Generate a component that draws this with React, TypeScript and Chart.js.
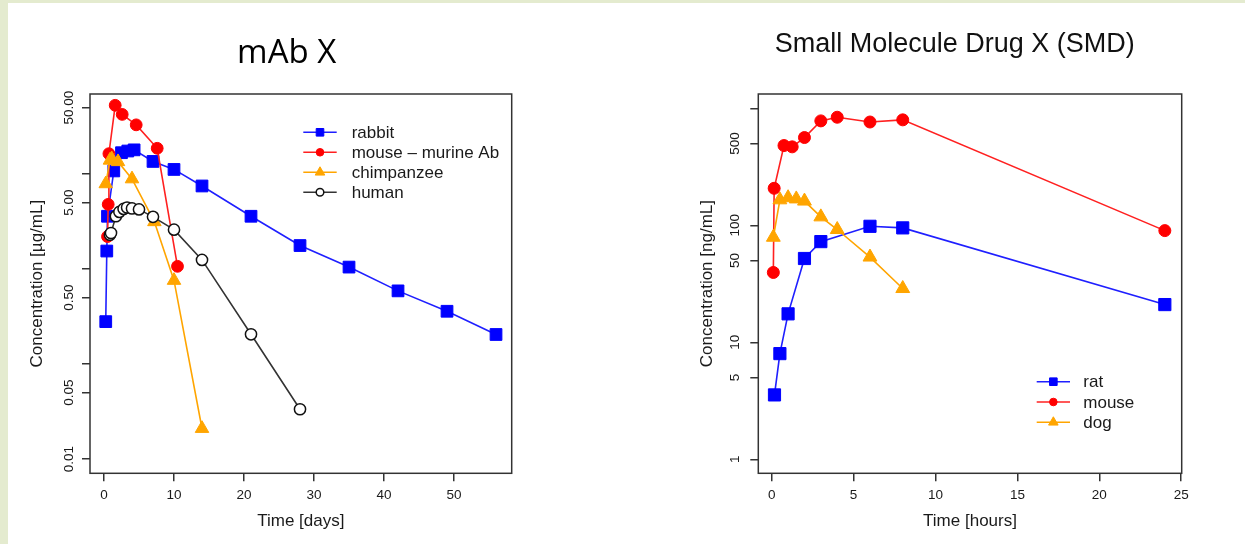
import React, { useEffect, useRef } from 'react';
import { Chart, registerables } from 'chart.js';

Chart.register(...registerables);
Chart.defaults.font.family = "'Liberation Sans', Arial, Helvetica, sans-serif";

// ---------- mAb X : time in days, concentration in µg/mL ----------
const rabbitDays = [0.25, 0.4, 0.5, 1.4, 2.5, 3.4, 4.3, 7, 10, 14, 21, 28, 35, 42, 49, 56];
const rabbitConc = [0.28, 1.55, 3.6, 10.8, 16.8, 17.5, 18, 13.6, 11.2, 7.5, 3.6, 1.77, 1.05, 0.59, 0.36, 0.205];
const murineDays = [0.5, 0.6, 0.7, 1.6, 2.6, 4.6, 7.6, 10.5];
const murineConc = [2.2, 4.8, 16.4, 53, 42.5, 33, 18.7, 1.07];
const chimpDays = [0.25, 0.85, 1.1, 2.0, 4.0, 7.2, 10, 14];
const chimpConc = [7.9, 14.0, 14.5, 13.5, 8.9, 3.15, 0.76, 0.021];
const humanDays = [0.85, 1.0, 1.7, 2.2, 2.8, 3.3, 4.0, 5.0, 7.0, 10, 14, 21, 28];
const humanConc = [2.3, 2.4, 3.6, 4.0, 4.3, 4.45, 4.35, 4.25, 3.55, 2.6, 1.25, 0.206, 0.0335];

const mabXTicks = [0, 10, 20, 30, 40, 50];
const mabYTicks = [0.01, 0.05, 0.1, 0.5, 1, 5, 10, 50];
const mabYLabels = ['0.01', '0.05', '', '0.50', '', '5.00', '', '50.00'];

// ---------- Small Molecule Drug X : time in hours, concentration in ng/mL ----------
const ratHours = [0.17, 0.5, 1, 2, 3, 6, 8, 24];
const ratConc = [3.55, 8.0, 17.5, 52, 72.5, 98, 95, 21];
const mouseHours = [0.1, 0.15, 0.75, 1.25, 2, 3, 4, 6, 8, 24];
const mouseConc = [39.5, 207, 480, 468, 562, 780, 838, 763, 796, 90];
const dogHours = [0.1, 0.5, 1, 1.5, 2, 3, 4, 6, 8];
const dogConc = [79, 165, 172, 168, 161, 118, 92, 53.5, 28.8];

const smdXTicks = [0, 5, 10, 15, 20, 25];
const smdYTicks = [1, 5, 10, 50, 100, 500, 1000];
const smdYLabels = ['1', '5', '10', '50', '100', '500', ''];

const TEXT = '#1a1a1a';
const AXIS = '#333333';

const pts = (xs: number[], ys: number[]) => xs.map((x, i) => ({ x, y: ys[i] }));

function drawMarker(ctx: CanvasRenderingContext2D, style: string, x: number, y: number, r: number, fill: string, stroke: string, lw: number) {
  ctx.beginPath();
  if (style === 'rect') {
    ctx.rect(x - r, y - r, 2 * r, 2 * r);
  } else if (style === 'triangle') {
    ctx.moveTo(x, y - r * 1.15);
    ctx.lineTo(x + r, y + r * 0.58);
    ctx.lineTo(x - r, y + r * 0.58);
    ctx.closePath();
  } else {
    ctx.arc(x, y, r, 0, Math.PI * 2);
  }
  ctx.fillStyle = fill;
  ctx.fill();
  ctx.lineWidth = lw;
  ctx.strokeStyle = stroke;
  ctx.stroke();
}

const framePlugin = {
  id: 'frameBox',
  afterDatasetsDraw(chart: any) {
    const { ctx, chartArea: a } = chart;
    ctx.save();
    ctx.strokeStyle = AXIS;
    ctx.lineWidth = 1.5;
    ctx.strokeRect(a.left, a.top, a.right - a.left, a.bottom - a.top);
    ctx.restore();
  },
};

const titlePlugin = {
  id: 'panelTitle',
  afterDraw(chart: any, _args: any, opts: any) {
    const { ctx } = chart;
    ctx.save();
    ctx.fillStyle = opts.color;
    ctx.font = opts.font;
    ctx.textAlign = 'center';
    ctx.textBaseline = 'alphabetic';
    ctx.fillText(opts.text, opts.x, opts.y);
    ctx.restore();
  },
};

const legendPlugin = {
  id: 'insetLegend',
  afterDraw(chart: any, _args: any, opts: any) {
    const { ctx, chartArea } = chart;
    const x0 = chartArea.left + opts.dx;
    const y0 = chartArea.top + opts.dy;
    ctx.save();
    chart.data.datasets.forEach((ds: any, i: number) => {
      const y = y0 + i * opts.rowGap;
      ctx.strokeStyle = ds.borderColor;
      ctx.lineWidth = 1.5;
      ctx.beginPath();
      ctx.moveTo(x0, y);
      ctx.lineTo(x0 + opts.lineLen, y);
      ctx.stroke();
      const r = ds.pointStyle === 'rect' ? 3.8 : ds.pointStyle === 'triangle' ? 4.8 : 3.8;
      drawMarker(ctx, ds.pointStyle, x0 + opts.lineLen / 2, y, r, ds.pointBackgroundColor, ds.pointBorderColor, ds.pointBorderWidth);
      ctx.fillStyle = TEXT;
      ctx.font = "17px 'Liberation Sans', Arial, sans-serif";
      ctx.textAlign = 'left';
      ctx.textBaseline = 'middle';
      ctx.fillText(ds.label, x0 + opts.textDx, y + 1);
    });
    ctx.restore();
  },
};

type Series = {
  label: string; xs: number[]; ys: number[]; line: string; fill: string; stroke: string;
  style: string; radius: number; bw: number; order: number;
};

type Spec = {
  series: Series[];
  xMin: number; xMax: number; xTicks: number[]; xTitle: string;
  yMin: number; yMax: number; yTicks: number[]; yLabels: string[]; yTitle: string;
  yAxisWidth: number; yTickPad: number; yTitlePad: number; padRight: number;
  title: any; legend: any;
};

function buildConfig(spec: Spec): any {
  const grid = {
    display: true, drawOnChartArea: false, drawTicks: true, tickLength: 8,
    color: AXIS, lineWidth: 1.5,
  };
  return {
    type: 'line',
    data: {
      datasets: spec.series.map((s) => ({
        label: s.label,
        data: pts(s.xs, s.ys),
        borderColor: s.line,
        borderWidth: 1.6,
        backgroundColor: s.fill,
        pointStyle: s.style,
        pointRadius: s.radius,
        pointBackgroundColor: s.fill,
        pointBorderColor: s.stroke,
        pointBorderWidth: s.bw,
        tension: 0,
        order: s.order,
        clip: false,
      })),
    },
    options: {
      responsive: false,
      animation: false,
      devicePixelRatio: 1,
      events: [],
      layout: { padding: { left: 0, top: 94, right: spec.padRight, bottom: 0 } },
      plugins: {
        legend: { display: false },
        tooltip: { enabled: false },
        panelTitle: spec.title,
        insetLegend: spec.legend,
      },
      scales: {
        x: {
          type: 'linear',
          min: spec.xMin,
          max: spec.xMax,
          afterBuildTicks: (s: any) => { s.ticks = spec.xTicks.map((v) => ({ value: v })); },
          afterFit: (s: any) => { s.height = 70.7; },
          grid,
          border: { display: false },
          ticks: {
            autoSkip: false, maxRotation: 0, minRotation: 0, padding: 5.6, color: TEXT,
            font: { size: 13.5 }, callback: (v: any) => String(v),
          },
          title: {
            display: true, text: spec.xTitle, color: TEXT, font: { size: 17 },
            padding: { top: 0, bottom: 12.1 },
          },
        },
        y: {
          type: 'logarithmic',
          min: spec.yMin,
          max: spec.yMax,
          afterBuildTicks: (s: any) => { s.ticks = spec.yTicks.map((v) => ({ value: v })); },
          afterFit: (s: any) => { s.width = spec.yAxisWidth; },
          grid,
          border: { display: false },
          ticks: {
            autoSkip: false, minRotation: 90, maxRotation: 90, crossAlign: 'center',
            padding: spec.yTickPad, color: TEXT, font: { size: 13.5 },
            callback: (_v: any, i: number) => spec.yLabels[i],
          },
          title: {
            display: true, text: spec.yTitle, color: TEXT, font: { size: 17 },
            padding: { top: spec.yTitlePad, bottom: 0 },
          },
        },
      },
    },
    plugins: [framePlugin, titlePlugin, legendPlugin],
  };
}

const mabSpec: Spec = {
  series: [
    { label: 'rabbit', xs: rabbitDays, ys: rabbitConc, line: '#1f1fff', fill: '#0000ff', stroke: '#0000ff', style: 'rect', radius: 8.3, bw: 1, order: 4 },
    { label: 'mouse \u2013 murine Ab', xs: murineDays, ys: murineConc, line: '#ff2020', fill: '#ff0000', stroke: '#ff0000', style: 'circle', radius: 5.9, bw: 1, order: 3 },
    { label: 'chimpanzee', xs: chimpDays, ys: chimpConc, line: '#ffa500', fill: '#ffa500', stroke: '#ffa500', style: 'triangle', radius: 7.8, bw: 1, order: 2 },
    { label: 'human', xs: humanDays, ys: humanConc, line: '#333333', fill: '#ffffff', stroke: '#111111', style: 'circle', radius: 5.6, bw: 1.5, order: 1 },
  ],
  xMin: -2.0, xMax: 58.24, xTicks: mabXTicks, xTitle: 'Time [days]',
  yMin: 0.00709, yMax: 69.7, yTicks: mabYTicks, yLabels: mabYLabels, yTitle: 'Concentration [\u00b5g/mL]',
  yAxisWidth: 90, yTickPad: -4.1, yTitlePad: 27.4, padRight: 108.3,
  title: { text: 'mAb X', x: 286.7, y: 62.5, font: "33px 'Open Sans', 'Noto Sans', sans-serif", color: '#000000' },
  legend: { dx: 213.3, dy: 38.3, rowGap: 20, lineLen: 33.4, textDx: 48.4 },
};

const smdSpec: Spec = {
  series: [
    { label: 'rat', xs: ratHours, ys: ratConc, line: '#1f1fff', fill: '#0000ff', stroke: '#0000ff', style: 'rect', radius: 8.6, bw: 1, order: 3 },
    { label: 'mouse', xs: mouseHours, ys: mouseConc, line: '#ff2020', fill: '#ff0000', stroke: '#ff0000', style: 'circle', radius: 6.0, bw: 1, order: 2 },
    { label: 'dog', xs: dogHours, ys: dogConc, line: '#ffa500', fill: '#ffa500', stroke: '#ffa500', style: 'triangle', radius: 8.0, bw: 1, order: 1 },
  ],
  xMin: -0.818, xMax: 25.03, xTicks: smdXTicks, xTitle: 'Time [hours]',
  yMin: 0.759, yMax: 1324, yTicks: smdYTicks, yLabels: smdYLabels, yTitle: 'Concentration [ng/mL]',
  yAxisWidth: 138.3, yTickPad: 4.0, yTitlePad: 77.5, padRight: 63.3,
  title: { text: 'Small Molecule Drug X (SMD)', x: 334.8, y: 52, font: "27px 'Liberation Sans', Arial, sans-serif", color: '#111111' },
  legend: { dx: 278.4, dy: 287.7, rowGap: 20.3, lineLen: 33.3, textDx: 46.6 },
};

function Panel({ left, width, spec }: { left: number; width: number; spec: Spec }) {
  const ref = useRef<HTMLCanvasElement>(null);
  useEffect(() => {
    const chart = new Chart(ref.current as HTMLCanvasElement, buildConfig(spec));
    return () => chart.destroy();
  }, [spec]);
  return (
    <canvas
      ref={ref}
      width={width}
      height={544}
      style={{ position: 'absolute', left, top: 0, width, height: 544 }}
    />
  );
}

export default function App() {
  return (
    <div style={{ position: 'fixed', left: 0, top: 0, width: 1245, height: 544, background: '#e4ebcf', overflow: 'hidden' }}>
      <div style={{ position: 'absolute', left: 8, top: 3, right: 0, bottom: 0, background: '#ffffff' }} />
      <Panel left={0} width={620} spec={mabSpec} />
      <Panel left={620} width={625} spec={smdSpec} />
    </div>
  );
}
